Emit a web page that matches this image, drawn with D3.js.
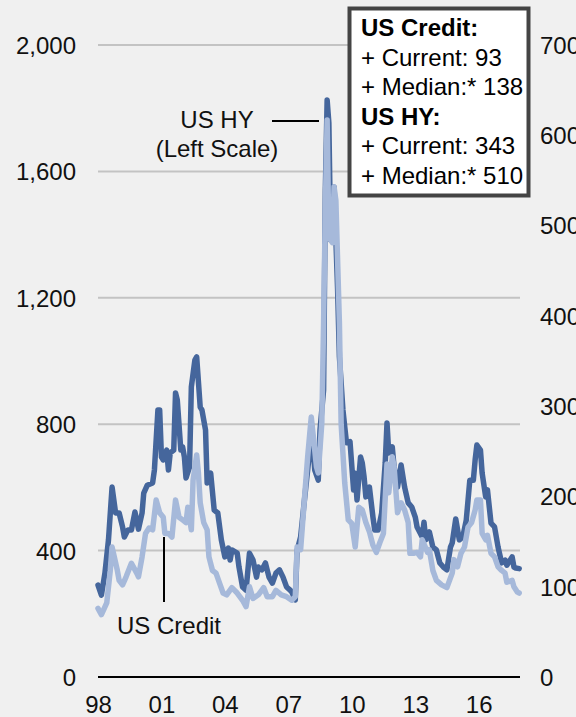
<!DOCTYPE html>
<html>
<head>
<meta charset="utf-8">
<script src="https://cdn.jsdelivr.net/npm/d3@7"></script>
<style>
  html, body { margin: 0; padding: 0; background: #f0f0f0; }
  svg { display: block; font-family: "Liberation Sans", Arial, Helvetica, sans-serif; }
</style>
</head>
<body>
<svg id="chart" width="576" height="717"></svg>
<script>
// US high-yield spread (bp, left scale)
const hySpread = [
  ["1998-01",291],["1998-03",259],["1998-05",329],["1998-07",434],["1998-09",601],["1998-11",519],
  ["1999-01",519],["1999-03",475],["1999-04",443],["1999-06",465],["1999-08",465],["1999-10",522],["1999-12",468],
  ["2000-02",519],["2000-03",582],["2000-05",607],["2000-08",614],["2000-09",655],["2000-11",845],["2000-12",845],
  ["2001-01",696],["2001-02",687],["2001-04",718],["2001-05",655],["2001-06",709],["2001-08",718],["2001-09",899],["2001-10",877],["2001-12",718],
  ["2002-01",728],["2002-02",696],["2002-03",630],["2002-05",665],["2002-06",918],["2002-08",1003],["2002-09",1013],["2002-11",854],["2002-12",845],
  ["2003-02",782],["2003-03",614],["2003-05",645],["2003-07",528],["2003-09",519],["2003-11",434],
  ["2004-01",380],["2004-03",408],["2004-04",370],["2004-05",402],["2004-08",392],["2004-09",348],["2004-11",285],
  ["2005-01",275],["2005-03",392],["2005-05",370],["2005-07",316],["2005-08",348],["2005-10",339],["2005-12",361],
  ["2006-02",316],["2006-04",297],["2006-06",329],["2006-08",339],["2006-10",316],["2006-12",285],
  ["2007-02",275],["2007-03",269],["2007-05",244],["2007-06",400],["2007-08",443],["2007-10",551],
  ["2008-01",709],["2008-02",804],["2008-04",655],["2008-06",623],["2008-07",782],["2008-09",908],["2008-10",1541],["2008-11",1826],["2008-12",1753],
  ["2009-01",1383],["2009-02",1405],["2009-03",1551],["2009-05",1225],["2009-06",1013],["2009-08",845],["2009-10",741],["2009-12",745],
  ["2010-02",592],["2010-03",645],["2010-04",560],["2010-06",696],["2010-07",677],["2010-08",633],["2010-09",570],["2010-11",601],
  ["2011-01",506],["2011-02",465],["2011-04",465],["2011-06",519],["2011-08",677],["2011-09",804],["2011-10",709],["2011-12",728],
  ["2012-01",665],["2012-03",601],["2012-05",671],["2012-07",601],["2012-09",551],["2012-11",538],
  ["2013-01",506],["2013-02",475],["2013-05",443],["2013-06",490],["2013-07",434],["2013-09",459],["2013-11",411],
  ["2014-01",402],["2014-03",361],["2014-05",348],["2014-07",339],["2014-09",411],["2014-10",424],["2014-12",500],
  ["2015-02",434],["2015-04",443],["2015-06",497],["2015-08",623],["2015-10",623],["2015-11",687],["2015-12",734],
  ["2016-02",718],["2016-03",645],["2016-05",570],["2016-06",592],["2016-08",487],["2016-10",475],["2016-12",411],
  ["2017-02",361],["2017-04",370],["2017-05",354],["2017-08",380],["2017-09",348],["2017-10",345],["2017-12",343]
];

// US investment-grade credit spread (bp, right scale)
const creditSpread = [
  ["1998-01",76],["1998-03",69],["1998-06",82],["1998-08",118],["1998-09",144],["1998-12",118],
  ["1999-01",107],["1999-03",102],["1999-05",111],["1999-08",126],["1999-11",115],["1999-12",111],
  ["2000-02",133],["2000-04",159],["2000-06",165],["2000-08",163],["2000-10",196],["2000-12",182],
  ["2001-02",177],["2001-03",159],["2001-05",159],["2001-07",155],["2001-09",196],["2001-11",177],
  ["2002-01",174],["2002-03",171],["2002-04",188],["2002-06",163],["2002-07",218],["2002-09",246],["2002-10",226],["2002-11",193],
  ["2003-01",171],["2003-03",163],["2003-04",133],["2003-06",118],["2003-08",115],["2003-10",104],["2003-12",93],
  ["2004-02",91],["2004-05",99],["2004-08",93],["2004-11",85],
  ["2005-01",78],["2005-03",100],["2005-05",87],["2005-08",91],["2005-11",99],
  ["2006-01",89],["2006-04",89],["2006-06",96],["2006-09",91],["2006-12",89],
  ["2007-03",85],["2007-05",89],["2007-06",144],["2007-08",141],["2007-10",193],["2007-12",244],
  ["2008-02",288],["2008-05",233],["2008-06",226],["2008-08",281],["2008-09",392],["2008-10",520],["2008-11",617],["2008-12",487],
  ["2009-02",481],["2009-03",543],["2009-04",528],["2009-06",392],["2009-07",280],["2009-09",215],["2009-11",174],
  ["2010-01",170],["2010-03",144],["2010-05",188],["2010-07",185],["2010-09",171],["2010-11",161],
  ["2011-01",146],["2011-03",138],["2011-05",149],["2011-07",159],["2011-09",236],["2011-10",204],["2011-12",244],
  ["2012-01",233],["2012-03",182],["2012-05",193],["2012-07",185],["2012-09",171],["2012-10",137],["2012-12",137],
  ["2013-02",138],["2013-04",133],["2013-05",152],["2013-08",138],["2013-09",141],["2013-11",118],
  ["2014-01",107],["2014-04",102],["2014-07",99],["2014-10",115],["2014-11",130],
  ["2015-01",122],["2015-03",137],["2015-05",144],["2015-07",166],["2015-09",171],["2015-11",185],["2015-12",196],
  ["2016-02",196],["2016-03",159],["2016-05",152],["2016-06",157],["2016-08",137],["2016-10",133],["2016-12",122],
  ["2017-02",118],["2017-04",115],["2017-05",105],["2017-08",107],["2017-09",100],["2017-11",94],["2017-12",93]
];

const leftTicks = [0, 400, 800, 1200, 1600, 2000];
const rightTicks = [0, 100, 200, 300, 400, 500, 600, 700];
const yearTicks = ["1998", "2001", "2004", "2007", "2010", "2013", "2016"];

const legendLines = [
  { text: "US Credit:", bold: true },
  { text: "+ Current: 93", bold: false },
  { text: "+ Median:* 138", bold: false },
  { text: "US HY:", bold: true },
  { text: "+ Current: 343", bold: false },
  { text: "+ Median:* 510", bold: false }
];

const svg = d3.select("#chart");
const parseMonth = d3.timeParse("%Y-%m");
const parseYear = d3.timeParse("%Y");

const plot = { left: 98, right: 520, top: 45, bottom: 677 };

const x = d3.scaleTime()
  .domain([parseYear("1998"), parseYear("2018")])
  .range([plot.left, 521]);
const yLeft = d3.scaleLinear().domain([0, 2000]).range([plot.bottom, plot.top]);
const yRight = d3.scaleLinear().domain([0, 700]).range([plot.bottom, plot.top]);

const fontSize = 24;
const ink = "#111";

// Horizontal gridlines
svg.append("g")
  .selectAll("line")
  .data(leftTicks.filter(d => d > 0))
  .join("line")
  .attr("x1", plot.left).attr("x2", plot.right)
  .attr("y1", d => yLeft(d)).attr("y2", d => yLeft(d))
  .attr("stroke", "#c3c3c3").attr("stroke-width", 2);

// Zero baseline
svg.append("line")
  .attr("x1", plot.left).attr("x2", plot.right)
  .attr("y1", yLeft(0)).attr("y2", yLeft(0))
  .attr("stroke", "#000").attr("stroke-width", 2);

// Left axis labels
const leftAxis = d3.axisLeft(yLeft).tickValues(leftTicks).tickFormat(d3.format(",")).tickSize(0).tickPadding(0);
const gl = svg.append("g").attr("transform", "translate(76,0)").call(leftAxis);
gl.select(".domain").remove();
gl.selectAll("text").attr("font-size", fontSize).attr("font-family", null).attr("fill", ink).attr("dy", "0.35em");

// Right axis labels (run past the right edge of the page)
const rightAxis = d3.axisRight(yRight).tickValues(rightTicks).tickFormat(d3.format("d")).tickSize(0).tickPadding(0);
const gr = svg.append("g").attr("transform", "translate(540,0)").call(rightAxis);
gr.select(".domain").remove();
gr.selectAll("text").attr("font-size", fontSize).attr("font-family", null).attr("fill", ink).attr("dy", "0.35em");

// Year labels
const bottomAxis = d3.axisBottom(x).tickValues(yearTicks.map(parseYear)).tickFormat(d3.timeFormat("%y")).tickSize(0).tickPadding(0);
const gb = svg.append("g").attr("transform", "translate(0,695)").call(bottomAxis);
gb.select(".domain").remove();
gb.selectAll("text").attr("font-size", fontSize).attr("font-family", null).attr("fill", ink).attr("dy", "0.75em");

// Series lines
const hyLine = d3.line().x(d => x(parseMonth(d[0]))).y(d => yLeft(d[1]));
const creditLine = d3.line().x(d => x(parseMonth(d[0]))).y(d => yRight(d[1]));

svg.append("path")
  .datum(hySpread)
  .attr("d", hyLine)
  .attr("fill", "none").attr("stroke", "#45669c").attr("stroke-width", 5.5)
  .attr("stroke-linejoin", "round").attr("stroke-linecap", "round");

svg.append("path")
  .datum(creditSpread)
  .attr("d", creditLine)
  .attr("fill", "none").attr("stroke", "#a6b9da").attr("stroke-width", 5.5)
  .attr("stroke-linejoin", "round").attr("stroke-linecap", "round");

// Series annotations
svg.append("text").attr("x", 217).attr("y", 128).attr("text-anchor", "middle")
  .attr("font-size", fontSize).attr("fill", ink).text("US HY");
svg.append("text").attr("x", 217).attr("y", 157).attr("text-anchor", "middle")
  .attr("font-size", fontSize).attr("fill", ink).text("(Left Scale)");
svg.append("line").attr("x1", 272).attr("x2", 319).attr("y1", 121).attr("y2", 121)
  .attr("stroke", "#000").attr("stroke-width", 2);

svg.append("line").attr("x1", 164).attr("x2", 164).attr("y1", 537).attr("y2", 602)
  .attr("stroke", "#000").attr("stroke-width", 2);
svg.append("text").attr("x", 117).attr("y", 634)
  .attr("font-size", fontSize).attr("fill", ink).text("US Credit");

// Summary box
const box = svg.append("g");
box.append("rect")
  .attr("x", 349.5).attr("y", 8.5).attr("width", 179).attr("height", 187)
  .attr("fill", "#fff").attr("stroke", "#444").attr("stroke-width", 4);
box.selectAll("text")
  .data(legendLines)
  .join("text")
  .attr("x", 361)
  .attr("y", (d, i) => 36 + i * 29.6)
  .attr("font-size", fontSize)
  .attr("font-weight", d => d.bold ? "bold" : "normal")
  .attr("fill", "#000")
  .text(d => d.text);
</script>
</body>
</html>
